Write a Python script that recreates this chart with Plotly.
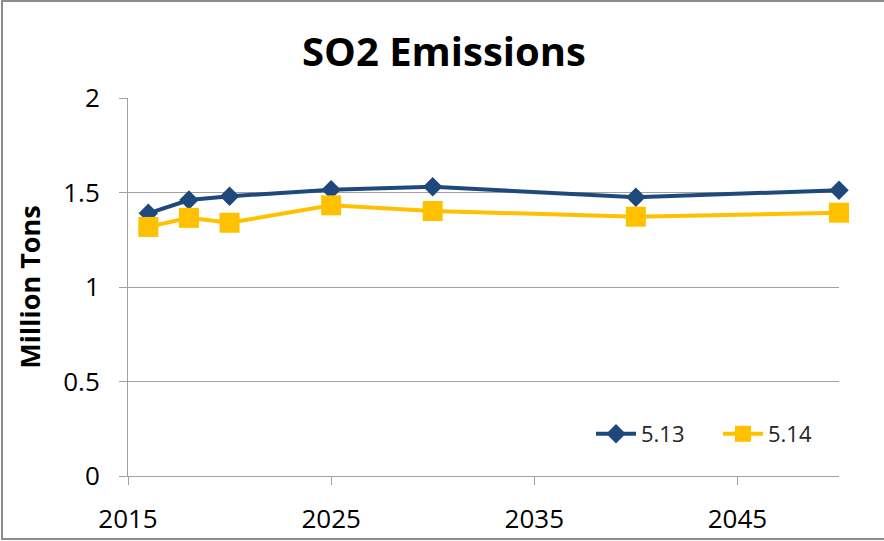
import plotly.graph_objects as go

years = [2016, 2018, 2020, 2025, 2030, 2040, 2050]
series_513 = [1.39, 1.46, 1.48, 1.515, 1.53, 1.475, 1.512]
series_514 = [1.318, 1.366, 1.34, 1.432, 1.402, 1.372, 1.393]
x_ticks = [2015, 2025, 2035, 2045]
y_ticks = [0, 0.5, 1, 1.5, 2]
y_tick_labels = ["0", "0.5", "1", "1.5", "2"]

W, H = 884, 541
L, R, T, B = 128, 45, 98, 65
pw, ph = W - L - R, H - T - B

fig = go.Figure()
fig.add_trace(go.Scatter(
    x=years, y=series_513, name="5.13", mode="lines+markers", cliponaxis=False,
    line=dict(color="#1F497D", width=4),
    marker=dict(symbol="diamond", size=15, color="#1F497D"),
))
fig.add_trace(go.Scatter(
    x=years, y=series_514, name="5.14", mode="lines+markers", cliponaxis=False,
    line=dict(color="#FFC000", width=4),
    marker=dict(symbol="square", size=20, color="#FFC000"),
))

font_family = "Open Sans, Liberation Sans, Arial"

fig.update_layout(
    width=W, height=H,
    margin=dict(l=L, r=R, t=T, b=B, autoexpand=False),
    paper_bgcolor="white", plot_bgcolor="white",
    title=dict(text="<b>SO2 Emissions</b>", x=444 / W, xref="container",
               y=1 - 52 / H, yref="container", xanchor="center", yanchor="middle",
               font=dict(family=font_family, size=40, color="black")),
    xaxis=dict(range=[2015, 2050], tickvals=x_ticks, ticktext=[str(v) for v in x_ticks],
               showgrid=False, zeroline=False, showline=True, linecolor="#A0A0A0", linewidth=1,
               ticks="outside", ticklen=8, tickcolor="#A0A0A0", ticklabelstandoff=12,
               automargin=False,
               tickfont=dict(family=font_family, size=26, color="black")),
    yaxis=dict(range=[0, 2], tickvals=y_ticks, ticktext=y_tick_labels,
               showgrid=True, gridcolor="#A0A0A0", gridwidth=1, zeroline=False,
               showline=True, linecolor="#A0A0A0", linewidth=1,
               ticks="outside", ticklen=8, tickcolor="#A0A0A0", ticklabelstandoff=14,
               automargin=False,
               tickfont=dict(family=font_family, size=26, color="black"),
               title=dict(text="<b>Million Tons</b>", standoff=14,
                          font=dict(family=font_family, size=27, color="black"))),
    legend=dict(orientation="h", x=(591 - L) / pw, y=(476 - 434) / ph,
                xanchor="left", yanchor="middle", bgcolor="rgba(0,0,0,0)",
                font=dict(family=font_family, size=22, color="#262626"),
                itemwidth=40, entrywidth=72, entrywidthmode="pixels"),
    showlegend=True,
)

fig.add_shape(type="rect", xref="paper", yref="paper",
              x0=(2 - L) / pw, x1=(W + 10 - L) / pw,
              y0=-(539 - T - ph) / ph, y1=(T + ph - 1) / ph,
              line=dict(color="#8C8C8C", width=2), layer="below")

fig.write_html("out.html", config={"displayModeBar": False},
               post_script="document.body.style.margin='0';")
